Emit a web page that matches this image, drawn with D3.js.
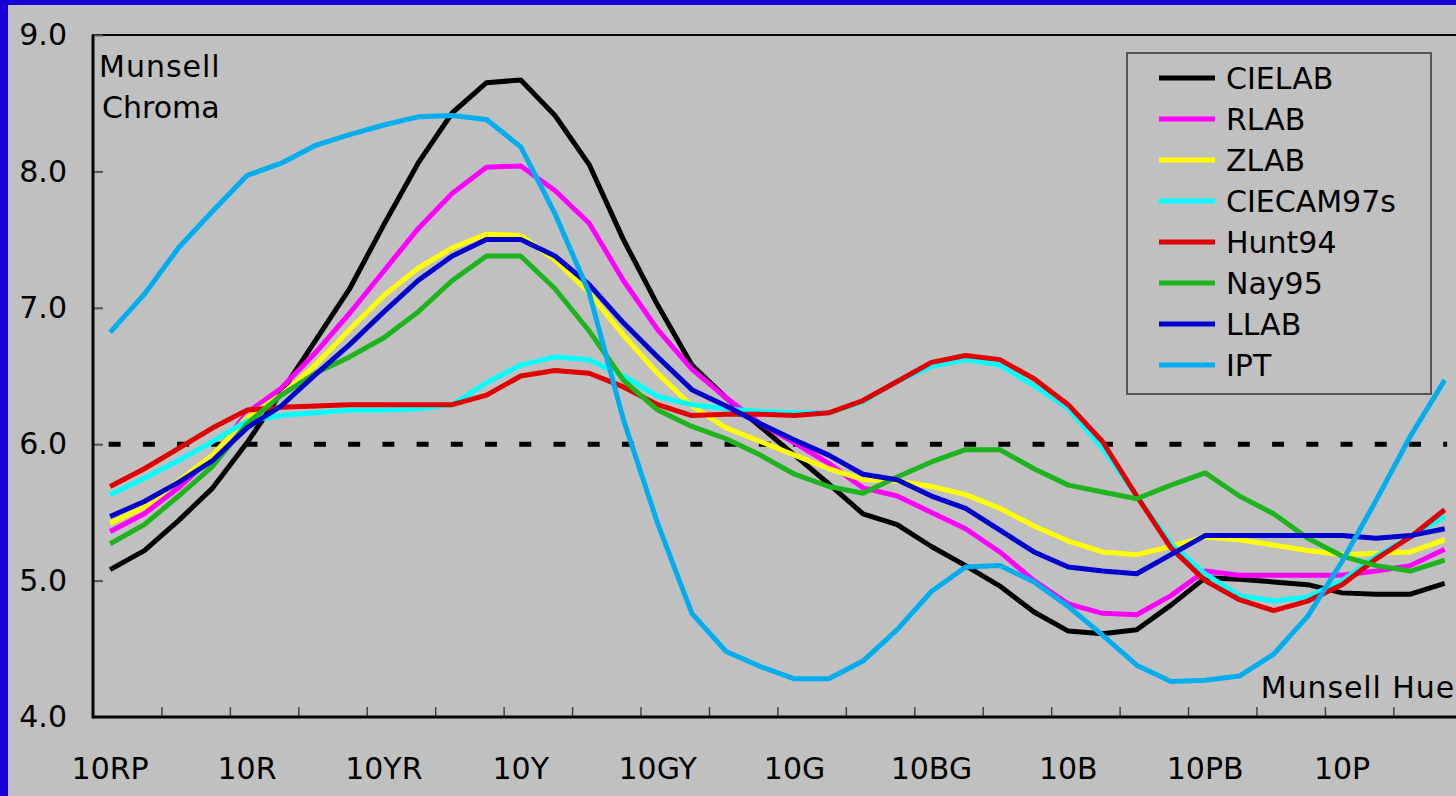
<!DOCTYPE html>
<html>
<head>
<meta charset="utf-8">
<script src="https://cdn.jsdelivr.net/npm/d3@7"></script>
<style>
  html, body { margin: 0; padding: 0; background: #1500d6; }
  svg { display: block; }
  text { font-family: "DejaVu Sans", Verdana, sans-serif; fill: #000; }
</style>
</head>
<body>
<svg id="chart" width="1456" height="796"></svg>
<script>
// Munsell hue steps along the category axis
const hues = ["10RP","2.5R","5R","7.5R","10R","2.5YR","5YR","7.5YR","10YR","2.5Y","5Y","7.5Y",
  "10Y","2.5GY","5GY","7.5GY","10GY","2.5G","5G","7.5G","10G","2.5BG","5BG","7.5BG",
  "10BG","2.5B","5B","7.5B","10B","2.5PB","5PB","7.5PB","10PB","2.5P","5P","7.5P",
  "10P","2.5RP","5RP","7.5RP"];

// Predicted Munsell chroma for each colour space / appearance model
const cielab = [5.08,5.22,5.44,5.68,6.01,6.38,6.76,7.14,7.61,8.06,8.43,8.65,8.67,8.41,8.05,7.50,
  7.02,6.58,6.34,6.13,5.92,5.71,5.49,5.41,5.25,5.11,4.96,4.77,4.63,4.61,4.64,4.82,5.02,5.01,4.99,4.97,
  4.91,4.90,4.90,4.98];
const rlab = [5.36,5.49,5.68,5.91,6.23,6.41,6.67,6.96,7.27,7.58,7.84,8.03,8.04,7.86,7.62,7.20,
  6.84,6.55,6.34,6.15,6.01,5.86,5.68,5.62,5.50,5.38,5.21,5.00,4.83,4.76,4.75,4.89,5.07,5.04,5.04,5.04,
  5.04,5.07,5.11,5.23];
const zlab = [5.42,5.54,5.73,5.92,6.20,6.36,6.58,6.84,7.09,7.29,7.44,7.54,7.53,7.35,7.11,6.80,
  6.52,6.28,6.12,6.02,5.92,5.82,5.74,5.73,5.69,5.63,5.53,5.40,5.29,5.21,5.19,5.25,5.32,5.30,5.26,5.22,
  5.19,5.20,5.21,5.30];
const ciecam97s = [5.63,5.75,5.88,6.02,6.17,6.21,6.23,6.25,6.25,6.26,6.29,6.45,6.58,6.64,6.62,6.50,
  6.35,6.29,6.26,6.24,6.23,6.23,6.31,6.46,6.57,6.62,6.58,6.43,6.26,5.97,5.62,5.27,5.05,4.89,4.85,4.88,
  5.00,5.18,5.32,5.47];
const hunt94 = [5.69,5.82,5.97,6.12,6.25,6.27,6.28,6.29,6.29,6.29,6.29,6.36,6.50,6.54,6.52,6.42,
  6.29,6.21,6.22,6.22,6.21,6.23,6.32,6.46,6.60,6.65,6.62,6.48,6.29,6.02,5.62,5.24,5.00,4.86,4.78,4.85,
  4.97,5.16,5.32,5.52];
const nay95 = [5.27,5.41,5.62,5.84,6.15,6.36,6.52,6.64,6.78,6.97,7.20,7.38,7.38,7.14,6.83,6.47,
  6.25,6.13,6.04,5.92,5.78,5.69,5.64,5.76,5.87,5.96,5.96,5.82,5.70,5.65,5.60,5.70,5.79,5.62,5.49,5.31,
  5.18,5.11,5.07,5.15];
const llab = [5.47,5.58,5.72,5.88,6.12,6.28,6.51,6.73,6.97,7.20,7.38,7.50,7.50,7.38,7.17,6.89,
  6.64,6.40,6.28,6.15,6.03,5.92,5.78,5.74,5.62,5.53,5.37,5.21,5.10,5.07,5.05,5.19,5.33,5.33,5.33,5.33,
  5.33,5.31,5.33,5.38];
const ipt = [6.82,7.10,7.44,7.71,7.97,8.06,8.19,8.27,8.34,8.40,8.41,8.38,8.18,7.69,7.11,6.18,
  5.42,4.76,4.48,4.37,4.28,4.28,4.41,4.64,4.92,5.10,5.11,4.99,4.81,4.60,4.38,4.26,4.27,4.30,4.46,4.74,
  5.14,5.59,6.06,6.47];

const seriesNames = ["CIELAB","RLAB","ZLAB","CIECAM97s","Hunt94","Nay95","LLAB","IPT"];
const seriesColors = ["#000000","#ff00ff","#ffff00","#00ffff","#e00000","#1eb41e","#0000cc","#00aeef"];
const seriesValues = [cielab, rlab, zlab, ciecam97s, hunt94, nay95, llab, ipt];

const yTicks = [4, 5, 6, 7, 8, 9];
const referenceChroma = 6.0;

(function draw() {
  const svg = d3.select("#chart");
  const W = 1456, H = 796;

  // grey page inside the blue frame
  svg.append("rect").attr("x", 8).attr("y", 5).attr("width", W - 8).attr("height", H - 5)
    .attr("fill", "#c0c0c0");

  const plotLeft = 93, plotTop = 35, plotBottom = 717;
  const step = 34.22;
  const plotRight = plotLeft + step * hues.length;

  const x = d3.scaleBand().domain(hues).range([plotLeft, plotRight]).padding(0);
  const cx = h => x(h) + x.bandwidth() / 2;
  const y = d3.scaleLinear().domain([4, 9]).range([plotBottom, plotTop]);
  const edge = d3.scaleLinear().domain([0, hues.length]).range([plotLeft, plotRight]);

  // plot frame
  svg.append("rect").attr("x", plotLeft).attr("y", plotTop)
    .attr("width", plotRight - plotLeft).attr("height", plotBottom - plotTop)
    .attr("fill", "none").attr("stroke", "#000").attr("stroke-width", 2);

  // inner tick marks
  const yTickAxis = svg.append("g").attr("transform", `translate(${plotLeft},0)`)
    .call(d3.axisLeft(y).tickValues(yTicks.slice(1)).tickSize(-10).tickFormat(""));
  yTickAxis.select(".domain").remove();
  yTickAxis.selectAll("line").attr("stroke", "#555").attr("stroke-width", 2);

  const xTickAxis = svg.append("g").attr("transform", `translate(0,${plotBottom})`)
    .call(d3.axisBottom(edge).tickValues(d3.range(2, hues.length, 2)).tickSize(-10).tickFormat(""));
  xTickAxis.select(".domain").remove();
  xTickAxis.selectAll("line").attr("stroke", "#444").attr("stroke-width", 1.5);

  // axis labels
  const yLabels = svg.append("g").attr("transform", `translate(${plotLeft},0)`)
    .call(d3.axisLeft(y).tickValues(yTicks).tickSize(0).tickPadding(26).tickFormat(d3.format(".1f")));
  yLabels.select(".domain").remove();
  yLabels.selectAll("text").attr("font-size", 30).attr("font-family", "DejaVu Sans").attr("fill", "#000");

  const xLabels = svg.append("g").attr("transform", `translate(0,${plotBottom})`)
    .call(d3.axisBottom(x).tickValues(hues.filter((_, i) => i % 4 === 0)).tickSize(0).tickPadding(41));
  xLabels.select(".domain").remove();
  xLabels.selectAll("text").attr("font-size", 30).attr("font-family", "DejaVu Sans").attr("fill", "#000");

  // axis lines
  svg.append("line").attr("x1", plotLeft).attr("x2", plotLeft).attr("y1", plotTop).attr("y2", plotBottom + 1.5)
    .attr("stroke", "#000").attr("stroke-width", 3);
  svg.append("line").attr("x1", plotLeft).attr("x2", plotRight).attr("y1", plotBottom).attr("y2", plotBottom)
    .attr("stroke", "#000").attr("stroke-width", 3);

  // reference chroma level
  svg.append("line")
    .attr("x1", cx(hues[0]) - 1.5).attr("x2", cx(hues[hues.length - 1]) + 2.5)
    .attr("y1", y(referenceChroma)).attr("y2", y(referenceChroma))
    .attr("stroke", "#000").attr("stroke-width", 5)
    .attr("stroke-dasharray", `12 ${step - 12}`);

  // series lines
  const line = d3.line().x((d, i) => cx(hues[i])).y(d => y(d));
  seriesValues.forEach((vals, k) => {
    svg.append("path").datum(vals).attr("d", line)
      .attr("fill", "none").attr("stroke", seriesColors[k]).attr("stroke-width", 5)
      .attr("stroke-linejoin", "round");
  });

  // axis titles
  svg.append("text").attr("x", 99).attr("y", 77).attr("font-size", 30)
    .attr("letter-spacing", 1).text("Munsell");
  svg.append("text").attr("x", 102).attr("y", 118).attr("font-size", 30).text("Chroma");
  svg.append("text").attr("x", 1455).attr("y", 698).attr("font-size", 30)
    .attr("letter-spacing", 0.9).attr("text-anchor", "end").text("Munsell Hue");

  // legend
  const legend = svg.append("g");
  legend.append("rect").attr("x", 1127).attr("y", 53).attr("width", 304).attr("height", 341)
    .attr("fill", "none").attr("stroke", "#555").attr("stroke-width", 2);
  const ly = d3.scalePoint().domain(seriesNames).range([78, 365]);
  seriesNames.forEach((name, k) => {
    legend.append("line").attr("x1", 1159).attr("x2", 1215)
      .attr("y1", ly(name)).attr("y2", ly(name))
      .attr("stroke", seriesColors[k]).attr("stroke-width", 5);
    legend.append("text").attr("x", 1226).attr("y", ly(name)).attr("dy", "0.36em")
      .attr("font-size", 30).text(name);
  });
})();
</script>
</body>
</html>
